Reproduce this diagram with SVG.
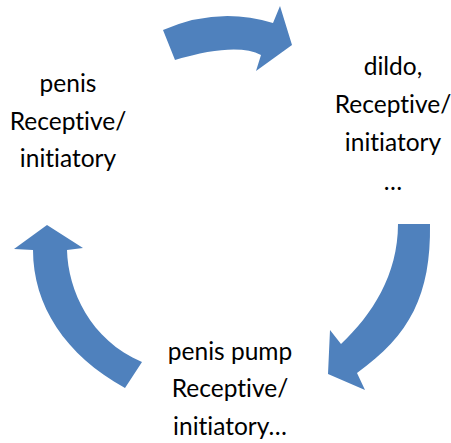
<svg xmlns="http://www.w3.org/2000/svg" width="451" height="443" viewBox="0 0 451 443">
  <style>
    .arrow { fill: #4F81BD; }
    .label { font-family: "Lato", "Open Sans", sans-serif; font-size: 24.5px; fill: #000; text-anchor: middle; font-variant-ligatures: none; font-feature-settings: "liga" 0, "dlig" 0; }
  </style>
  <rect width="451" height="443" fill="#fff"/>
  <g id="connectors">
    <path id="arrow-top" class="arrow" d="M163,30 Q218,6 273,23 L280,6 L292,45 L256,71 L261,55 Q236,42 175,60 Z"/>
    <path id="arrow-right" class="arrow" d="M398,224 L430,224 C431,295 410,335 357,373 L365,390 L328,374 L330,330 L341,344 C372,315 398,275 398,224 Z"/>
    <path id="arrow-left" class="arrow" d="M125,388 C65,355 33,305 33,250 L14,249 L47,225 L83,248 L67,250 C68,290 90,340 142,362 Z"/>
  </g>
  <g id="node-penis">
    <text class="label" x="68" y="92">penis</text>
    <text class="label" x="68" y="130">Receptive/</text>
    <text class="label" x="68" y="167">initiatory</text>
  </g>
  <g id="node-dildo">
    <text class="label" x="393" y="75">dildo,</text>
    <text class="label" x="393" y="113">Receptive/</text>
    <text class="label" x="393" y="151">initiatory</text>
    <text class="label" x="393" y="190">…</text>
  </g>
  <g id="node-penis-pump">
    <text class="label" x="230" y="360">penis pump</text>
    <text class="label" x="230" y="397">Receptive/</text>
    <text class="label" x="230" y="435">initiatory…</text>
  </g>
</svg>
